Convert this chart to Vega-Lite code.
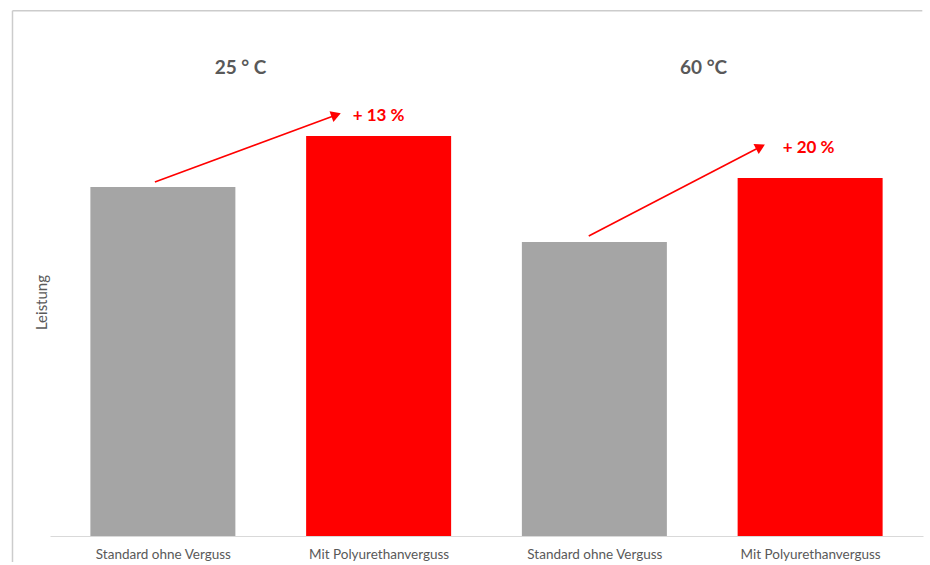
{
  "$schema": "https://vega.github.io/schema/vega-lite/v6.json",
  "width": 873,
  "height": 526,
  "autosize": {"type": "none"},
  "padding": {"left": 50, "top": 10, "right": 7, "bottom": 29},
  "background": "#ffffff",
  "config": {
    "view": {"stroke": null},
    "font": "Lato",
    "text": {"font": "Lato"}
  },
  "datasets": {
    "bars": [
      {"slot": 1, "temp": "25 ° C", "variant": "Standard ohne Verguss", "leistung": 87.25},
      {"slot": 2, "temp": "25 ° C", "variant": "Mit Polyurethanverguss", "leistung": 100},
      {"slot": 3, "temp": "60 °C", "variant": "Standard ohne Verguss", "leistung": 73.5},
      {"slot": 4, "temp": "60 °C", "variant": "Mit Polyurethanverguss", "leistung": 89.5}
    ],
    "groups": [
      {"temp": "25 ° C", "tx": 1.36, "ty": 117},
      {"temp": "60 °C", "tx": 3.506, "ty": 117}
    ],
    "arrows": [
      {"temp": "25 ° C", "x0": 0.963, "y0": 88.5, "x1": 1.803, "y1": 105.25, "label": "+ 13 %", "lx": 1.88, "ly": 105},
      {"temp": "60 °C", "x0": 2.974, "y0": 75, "x1": 3.77, "y1": 97.3, "label": "+ 20 %", "lx": 3.873, "ly": 97}
    ],
    "frame": [
      {"left": 0.303, "right": 4.52, "top": 131.3, "bottom": -6.5}
    ]
  },
  "layer": [
    {
      "description": "chart frame: top edge",
      "data": {"name": "frame"},
      "mark": {"type": "rule", "color": "#cccccc", "strokeWidth": 1.5, "clip": false},
      "encoding": {
        "x": {"field": "left", "type": "quantitative"},
        "x2": {"field": "right"},
        "y": {"field": "top", "type": "quantitative"}
      }
    },
    {
      "description": "chart frame: left edge",
      "data": {"name": "frame"},
      "mark": {"type": "rule", "color": "#cccccc", "strokeWidth": 1.5, "clip": false},
      "encoding": {
        "x": {"field": "left", "type": "quantitative"},
        "y": {"field": "top", "type": "quantitative"},
        "y2": {"field": "bottom"}
      }
    },
    {
      "data": {"name": "bars"},
      "mark": {"type": "bar", "size": 145},
      "encoding": {
        "x": {
          "field": "slot",
          "type": "quantitative",
          "scale": {"domain": [0.5, 4.5], "nice": false, "zero": false},
          "axis": {
            "title": null,
            "values": [1, 2, 3, 4],
            "labelExpr": "datum.value % 2 == 1 ? 'Standard ohne Verguss' : 'Mit Polyurethanverguss'",
            "grid": false,
            "ticks": false,
            "domainColor": "#d9d9d9",
            "domainWidth": 1,
            "labelColor": "#595959",
            "labelFont": "Lato",
            "labelFontSize": 13.5,
            "labelPadding": 11,
            "labelFlush": false
          }
        },
        "y": {
          "field": "leistung",
          "type": "quantitative",
          "scale": {"domain": [0, 131.5], "nice": false},
          "axis": {
            "title": "Leistung",
            "titleFont": "Lato",
            "titleFontWeight": "normal",
            "titleFontSize": 15,
            "titleColor": "#595959",
            "titlePadding": 1,
            "titleY": 292,
            "labels": false,
            "ticks": false,
            "domain": false,
            "grid": false
          }
        },
        "color": {
          "field": "variant",
          "type": "nominal",
          "scale": {"domain": ["Standard ohne Verguss", "Mit Polyurethanverguss"], "range": ["#a5a5a5", "#ff0000"]},
          "legend": null
        }
      }
    },
    {
      "data": {"name": "groups"},
      "mark": {"type": "text", "font": "Lato", "fontWeight": "bold", "fontSize": 19, "color": "#595959", "align": "center", "baseline": "middle"},
      "encoding": {
        "x": {"field": "tx", "type": "quantitative"},
        "y": {"field": "ty", "type": "quantitative"},
        "text": {"field": "temp"}
      }
    },
    {
      "data": {"name": "arrows"},
      "mark": {"type": "rule", "color": "#ff0000", "strokeWidth": 1.6},
      "encoding": {
        "x": {"field": "x0", "type": "quantitative"},
        "y": {"field": "y0", "type": "quantitative"},
        "x2": {"field": "x1"},
        "y2": {"field": "y1"}
      }
    },
    {
      "data": {"name": "arrows"},
      "mark": {"type": "point", "shape": "triangle-right", "filled": true, "color": "#ff0000", "opacity": 1, "size": 130},
      "encoding": {
        "x": {"field": "x1", "type": "quantitative"},
        "y": {"field": "y1", "type": "quantitative"},
        "angle": {"condition": {"test": "datum.temp === '25 ° C'", "value": 340}, "value": 333}
      }
    },
    {
      "data": {"name": "arrows"},
      "mark": {"type": "text", "font": "Lato", "fontWeight": "bold", "fontSize": 17, "color": "#ff0000", "align": "left", "baseline": "middle"},
      "encoding": {
        "x": {"field": "lx", "type": "quantitative"},
        "y": {"field": "ly", "type": "quantitative"},
        "text": {"field": "label"}
      }
    }
  ]
}
